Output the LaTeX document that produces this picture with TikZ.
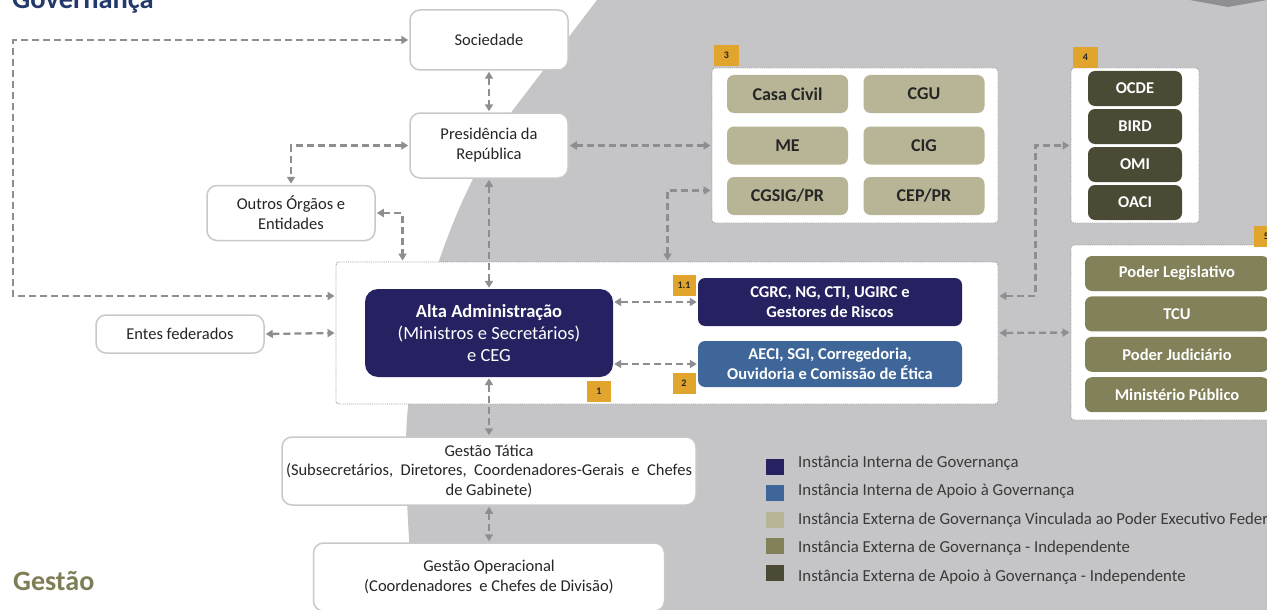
\documentclass[tikz,border=0pt]{standalone}
\usepackage{fontspec}
\setmainfont{Carlito}
\usetikzlibrary{arrows.meta, backgrounds, positioning}
\definecolor{graybg}{HTML}{C5C5C7}
\definecolor{chevron}{HTML}{8F8F92}
\definecolor{navy}{HTML}{262262}
\definecolor{steel}{HTML}{3F6698}
\definecolor{khaki}{HTML}{B8B596}
\definecolor{olive}{HTML}{83815A}
\definecolor{darkolive}{HTML}{4B4A35}
\definecolor{tagcolor}{HTML}{E1A42C}
\definecolor{linkgray}{HTML}{8E8E92}
\definecolor{boxline}{HTML}{C9C9C9}
\definecolor{dotline}{HTML}{9C9C9C}
\definecolor{titleblue}{HTML}{23396B}
\definecolor{gestaocolor}{HTML}{7F7D55}
\definecolor{textdark}{HTML}{262626}
\definecolor{keytext}{HTML}{3A3A3A}

\begin{document}
\begin{tikzpicture}[x=1pt, y=-1pt,
    link/.style={draw=linkgray, line width=2.3pt, dash pattern=on 7pt off 4pt,
      {Triangle[length=7pt, width=8pt]}-{Triangle[length=7pt, width=8pt]},
      shorten <=1pt, shorten >=1pt},
    whitebox/.style={draw=boxline, line width=1.5pt, fill=white, rounded corners=10pt,
      align=center, text=textdark, inner sep=2pt,
      font=\fontsize{16.5}{20}\selectfont},
    dotbox/.style={draw=dotline, densely dotted, line width=0.9pt, fill=white,
      rounded corners=3pt, inner sep=0pt},
    solidbox/.style={rounded corners=7pt, align=center, inner sep=0pt,
      font=\fontsize{18}{22}\selectfont\bfseries},
    tag/.style={fill=tagcolor, minimum width=24pt, minimum height=21pt, inner sep=0pt,
      text=textdark, font=\fontsize{10}{12}\selectfont\bfseries},
    keybox/.style={minimum width=18pt, minimum height=16pt, inner sep=0pt},
    keylabel/.style={anchor=west, inner sep=0pt, text=keytext,
      font=\fontsize{16.8}{20}\selectfont}
]
  \useasboundingbox (0,0) rectangle (1267,610);
  \clip (0,0) rectangle (1267,610);

  % Background: white on the left, gray on the right
  \fill[white] (0,0) rectangle (1267,610);
  \fill[graybg] (597,0) -- (513,110) .. controls (455,195) and (402,330) .. (406,470)
    .. controls (408,540) and (412,580) .. (415,610) -- (1267,610) -- (1267,0) -- cycle;
  \fill[chevron] (1190,0) -- (1228,7) -- (1267,0) -- cycle;

  % Titles
  \node[anchor=base west, inner sep=0pt, text=titleblue,
    font=\fontsize{28.5}{30}\selectfont\bfseries] (governanca) at (12,9) {Governança};
  \node[anchor=base west, inner sep=0pt, text=gestaocolor,
    font=\fontsize{28}{30}\selectfont\bfseries] (gestao) at (13,590) {Gestão};

  % Left column
  \node[whitebox, minimum width=158, minimum height=60] (soc) at (489,40) {Sociedade};
  \node[whitebox, minimum width=158, minimum height=65] (pres) at (489,145.5) {Presidência da\\República};
  \node[whitebox, minimum width=168, minimum height=55] (outros) at (291,213) {Outros Órgãos e\\Entidades};
  \node[whitebox, minimum width=168, minimum height=38] (entes) at (180,334) {Entes federados};

  % Core: internal governance
  \node[dotbox, minimum width=662, minimum height=142] (core) at (667,333) {};
  \node[solidbox, fill=navy, text=white, minimum width=248, minimum height=88,
    rounded corners=13pt, font=\fontsize{18.5}{22}\selectfont] (alta) at (489,333)
    {\textbf{Alta Administração}\\(Ministros e Secretários)\\e CEG};
  \node[solidbox, fill=navy, text=white, minimum width=264, minimum height=48,
    font=\fontsize{16.5}{20}\selectfont\bfseries] (cgrc) at (830,302)
    {CGRC, NG, CTI, UGIRC e\\Gestores de Riscos};
  \node[solidbox, fill=steel, text=white, minimum width=264, minimum height=46,
    font=\fontsize{16.5}{20}\selectfont\bfseries] (aeci) at (830,364)
    {AECI, SGI, Corregedoria,\\Ouvidoria e Comissão de Ética};
  \node[tag] (tag1) at (599,391) {1};
  \node[tag, minimum width=23pt] (tag11) at (684,285) {1.1};
  \node[tag, minimum width=23pt] (tag2) at (684,383) {2};

  % Management levels
  \node[whitebox, minimum width=414, minimum height=68, font=\fontsize{16.5}{19.5}\selectfont] (tatica) at (489,471)
    {Gestão Tática\\(Subsecretários,\ \ Diretores,\ \ Coordenadores-Gerais\ \ e\ \ Chefes\\de Gabinete)};
  \node[whitebox, minimum width=351, minimum height=68] (oper) at (489,577)
    {Gestão Operacional\\(Coordenadores\ \ e Chefes de Divisão)};

  % Group 3
  \node[dotbox, minimum width=286, minimum height=155] (box3) at (855,145.5) {};
  \node[tag, minimum width=25pt] (tag3) at (726.5,55.5) {3};
  \foreach \txt/\cx/\cy [count=\i] in {Casa Civil/787.5/94, CGU/924/94, ME/787.5/145.5,
      CIG/924/145.5, CGSIG\slash PR/787.5/196, CEP\slash PR/924/196}
    \node[solidbox, fill=khaki, text=textdark, minimum width=121, minimum height=38]
      (b3-\i) at (\cx,\cy) {\txt};

  % Group 4
  \node[dotbox, minimum width=128, minimum height=155] (box4) at (1135,145.5) {};
  \node[tag, minimum width=25pt] (tag4) at (1085.5,57.5) {4};
  \foreach \txt [count=\i] in {OCDE, BIRD, OMI, OACI}
    \node[solidbox, fill=darkolive, text=white, minimum width=94, minimum height=35,
      font=\fontsize{16.5}{20}\selectfont\bfseries] (b4-\i) at (1135,50.5+38*\i) {\txt};

  % Group 5
  \node[dotbox, minimum width=211, minimum height=175] (box5) at (1176.5,332.5) {};
  \node[tag, minimum width=25pt] (tag5) at (1266.5,236.5) {5};
  \foreach \txt [count=\i] in {Poder Legislativo, TCU, Poder Judiciário, Ministério Público}
    \node[solidbox, fill=olive, text=white, minimum width=184, minimum height=35,
      font=\fontsize{16.5}{20}\selectfont\bfseries] (b5-\i) at (1177,233.1+40.4*\i) {\txt};

  % Connectors
  \draw[link] (soc.west) -- ++(-396,0) |- ([yshift=37pt]core.west);
  \draw[link] (soc.south) -- (pres.north);
  \draw[link] (pres.west) -| (outros.north);
  \draw[link] (outros.east) -| ([xshift=67pt]core.north west);
  \draw[link] (pres.south) -- (alta.north);
  \draw[link] (pres.east) -- (box3.west);
  \draw[link] ([xshift=332pt]core.north west) |- ([yshift=-45pt]box3.west);
  \draw[link] ([yshift=37pt]core.east) -- ++(37,0) |- (box4.west);
  \draw[link] (core.east) -- (box5.west);
  \draw[link] (entes.east) -- (core.west);
  \draw[link] (alta.east |- cgrc.west) -- (cgrc.west);
  \draw[link] (alta.east |- aeci.west) -- (aeci.west);
  \draw[link] (alta.south) -- (tatica.north);
  \draw[link] (tatica.south) -- (oper.north);

  % Legend
  \foreach \clr/\txt [count=\i] in {navy/Instância Interna de Governança,
      steel/Instância Interna de Apoio à Governança,
      khaki/Instância Externa de Governança Vinculada ao Poder Executivo Federal,
      olive/Instância Externa de Governança - Independente,
      darkolive/Instância Externa de Apoio à Governança - Independente} {
    \node[keybox, fill=\clr] (key-\i) at (775,440+26.6*\i) {};
    \node[keylabel] (keytxt-\i) at (798,434.5+28.5*\i) {\txt};
  }
\end{tikzpicture}
\end{document}
